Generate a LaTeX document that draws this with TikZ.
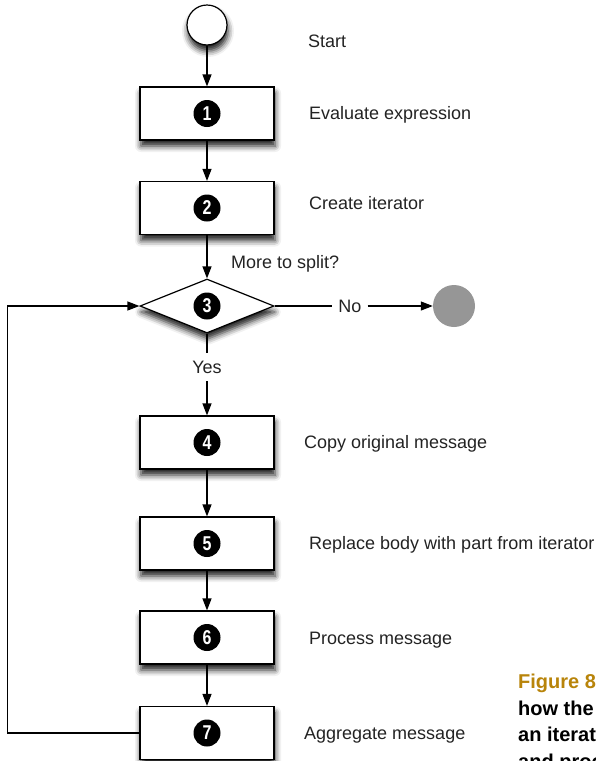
\documentclass[tikz,border=0pt]{standalone}
\usepackage{fontspec}
\setmainfont{Liberation Sans}
\usepackage{graphicx}
\usetikzlibrary{arrows.meta,shapes.geometric,shadows.blur}
\definecolor{capgold}{RGB}{184,132,10}
\definecolor{endgray}{RGB}{150,150,150}
\definecolor{txt}{RGB}{35,35,35}
\begin{document}
\begin{tikzpicture}[x=1pt,y=-1pt,
  shad/.style={blur shadow={shadow xshift=1pt, shadow yshift=-6pt, shadow blur radius=6pt, shadow opacity=90}},
  stepbox/.style={draw=black, line width=1.2pt, fill=white, minimum width=134pt, minimum height=53pt, inner sep=0pt, shad},
  decision/.style={diamond, draw=black, line width=1.2pt, fill=white, minimum width=134pt, minimum height=54pt, inner sep=0pt, shad},
  startc/.style={circle, draw=black, line width=1.2pt, fill=white, minimum size=40pt, inner sep=0pt, shad},
  endc/.style={circle, fill=endgray, minimum size=42pt, inner sep=0pt},
  badge/.style={circle, fill=black, minimum size=27pt, inner sep=0pt, text=white, font=\fontsize{20}{20}\selectfont\bfseries},
  lbl/.style={anchor=base west, inner sep=0pt, text=txt, font=\fontsize{18}{20}\selectfont},
  inl/.style={inner xsep=6pt, inner ysep=8pt, text=txt, font=\fontsize{18}{20}\selectfont},
  captxt/.style={anchor=base west, inner sep=0pt, font=\fontsize{20}{24}\selectfont\bfseries},
  conn/.style={line width=1.2pt, -{Triangle[length=12pt,width=9pt]}},
  plainline/.style={line width=1.2pt}
]
\useasboundingbox (0,0) rectangle (595,761);
\clip (0,0) rectangle (595,761);
% nodes
\node[startc] (start) at (207,25) {};
\node[stepbox] (b1) at (207,113.5) {};
\node[stepbox] (b2) at (207,208) {};
\node[decision] (d3) at (207,306) {};
\node[endc] (endc) at (454,306) {};
\node[stepbox] (b4) at (207,442.5) {};
\node[stepbox] (b5) at (207,543.5) {};
\node[stepbox] (b6) at (207,637.5) {};
\node[stepbox] (b7) at (207,733) {};
% badges
\node[badge] (n1) at (b1) {\scalebox{0.8}[1]{1}};
\node[badge] (n2) at (b2) {\scalebox{0.8}[1]{2}};
\node[badge] (n3) at (d3) {\scalebox{0.8}[1]{3}};
\node[badge] (n4) at (b4) {\scalebox{0.8}[1]{4}};
\node[badge] (n5) at (b5) {\scalebox{0.8}[1]{5}};
\node[badge] (n6) at (b6) {\scalebox{0.8}[1]{6}};
\node[badge] (n7) at (b7) {\scalebox{0.8}[1]{7}};
% inline labels
\node[inl] (no) at (350,306) {No};
\node[inl] (yes) at (207,367) {Yes};
% side labels
\node[lbl] (tstart) at (308,47) {Start};
\node[lbl] (t1) at (309,119.5) {Evaluate expression};
\node[lbl] (t2) at (309,209.5) {Create iterator};
\node[lbl] (tq) at (231,268) {More to split?};
\node[lbl] (t4) at (304,448.5) {Copy original message};
\node[lbl] (t5) at (309,549.5) {Replace body with part from iterator};
\node[lbl] (t6) at (309,644.5) {Process message};
\node[lbl] (t7) at (304,739.5) {Aggregate message};
% caption (cut off by the page edge, as in the reference)
\node[captxt, text=capgold] (c1) at (518,688) {Figure 8};
\node[captxt, text=black] (c2) at (518,715) {how the};
\node[captxt, text=black] (c3) at (518,741) {an iterat};
\node[captxt, text=black] (c4) at (518,768) {and proc};
% connectors
\draw[conn] (start) -- (b1);
\draw[conn] (b1) -- (b2);
\draw[conn] (b2) -- (d3);
\draw[plainline] (d3.east) -- (no.west);
\draw[conn] (no.east) -- (endc);
\draw[plainline] (d3.south) -- (yes.north);
\draw[conn] (yes.south) -- (b4);
\draw[conn] (b4) -- (b5);
\draw[conn] (b5) -- (b6);
\draw[conn] (b6) -- (b7);
\draw[conn] (b7.west) -- ++(-132,0) |- (d3.west);
\end{tikzpicture}
\end{document}
